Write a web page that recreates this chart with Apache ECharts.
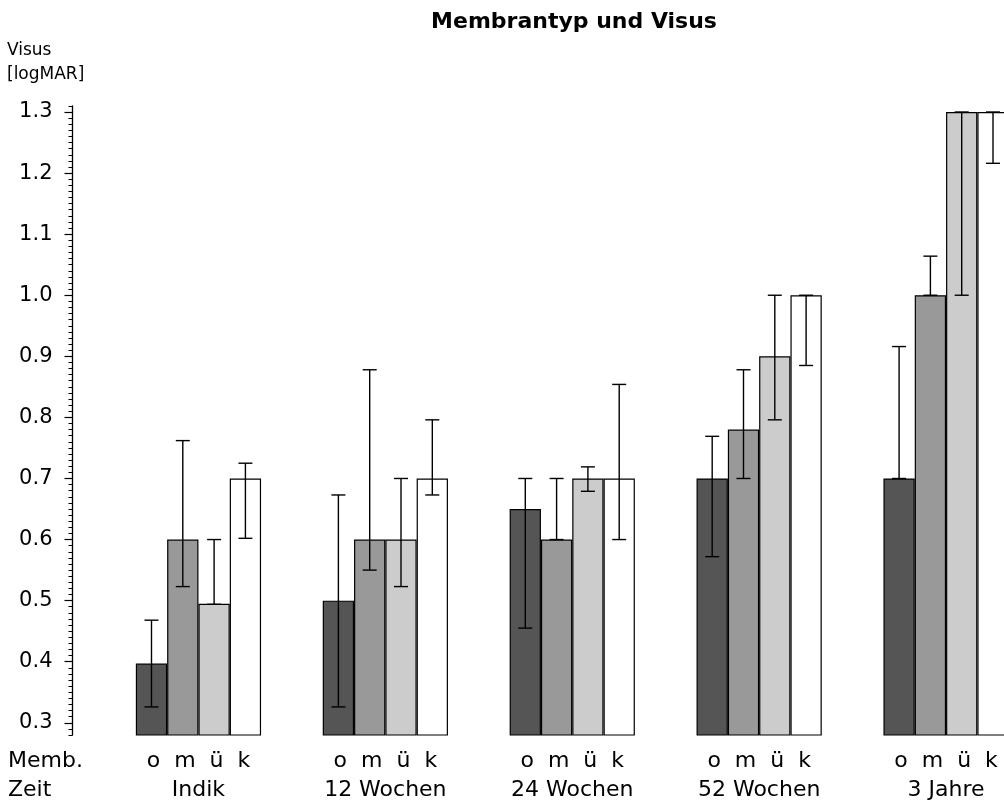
<!DOCTYPE html>
<html>
<head>
<meta charset="utf-8">
<script src="https://cdn.jsdelivr.net/npm/echarts@6/dist/echarts.min.js"></script>
<style>
  html, body { margin: 0; padding: 0; background: #fff; }
  #chart { width: 1004px; height: 805px; }
</style>
</head>
<body>
<div id="chart"></div>
<script>
// time points and membrane types
const zeitpunkte = ['Indik', '12 Wochen', '24 Wochen', '52 Wochen', '3 Jahre'];
const membranen = ['o', 'm', 'ü', 'k'];

// mean visus (logMAR) per membrane type at each time point
const visusO  = [0.397, 0.50, 0.65, 0.70, 0.70];
const visusM  = [0.60, 0.60, 0.60, 0.78, 1.00];
const visusUe = [0.495, 0.60, 0.70, 0.90, 1.30];
const visusK  = [0.70, 0.70, 0.70, 1.00, 1.30];

// error range (lower / upper) per membrane type
const fehlerOunten  = [0.326, 0.326, 0.455, 0.572, 0.70];
const fehlerOoben   = [0.468, 0.673, 0.70, 0.769, 0.916];
const fehlerMunten  = [0.523, 0.550, 0.60, 0.70, 1.00];
const fehlerMoben   = [0.762, 0.878, 0.70, 0.878, 1.064];
const fehlerUeunten = [0.494, 0.523, 0.679, 0.796, 1.00];
const fehlerUeoben  = [0.60, 0.70, 0.719, 1.00, 1.30];
const fehlerKunten  = [0.602, 0.673, 0.60, 0.885, 1.216];
const fehlerKoben   = [0.725, 0.796, 0.854, 1.00, 1.30];

// value axis ticks
const yMajorMin = 0.3, yMajorMax = 1.3, yMajorStep = 0.1;
const yMinorMin = 0.28, yMinorMax = 1.31, yMinorStep = 0.01;

const FONT = 'DejaVu Sans';
const BAR_FRACTION = 0.1675; // bar width as share of a category band
const colors = ['#555555', '#999999', '#cccccc', '#ffffff'];
const values = [visusO, visusM, visusUe, visusK];
const lows = [fehlerOunten, fehlerMunten, fehlerUeunten, fehlerKunten];
const highs = [fehlerOoben, fehlerMoben, fehlerUeoben, fehlerKoben];

const barSeries = values.map((v, i) => ({
  name: membranen[i],
  type: 'bar',
  xAxisIndex: 0,
  yAxisIndex: 0,
  barWidth: (BAR_FRACTION * 100) + '%',
  barGap: '0%',
  data: v,
  itemStyle: { color: colors[i], borderColor: '#000', borderWidth: 1.2 },
  emphasis: { disabled: true },
  z: 2
}));

const errorSeries = lows.map((lo, idx) => ({
  type: 'custom',
  xAxisIndex: 0,
  yAxisIndex: 0,
  z: 5,
  data: zeitpunkte.map((c, i) => [i, lo[i], highs[idx][i]]),
  encode: { x: 0, y: [1, 2] },
  renderItem(params, api) {
    const cat = api.value(0);
    const band = api.size([1, 0])[0];
    const bw = band * BAR_FRACTION;
    const off = (idx - 1.5) * bw;
    const pLo = api.coord([cat, api.value(1)]);
    const pHi = api.coord([cat, api.value(2)]);
    const x = pLo[0] + off;
    const cap = 7;
    const st = { stroke: '#000', lineWidth: 1.4 };
    return {
      type: 'group',
      children: [
        { type: 'line', shape: { x1: x, y1: pLo[1], x2: x, y2: pHi[1] }, style: st },
        { type: 'line', shape: { x1: x - cap, y1: pLo[1], x2: x + cap, y2: pLo[1] }, style: st },
        { type: 'line', shape: { x1: x - cap, y1: pHi[1], x2: x + cap, y2: pHi[1] }, style: st }
      ]
    };
  }
}));

const chart = echarts.init(document.getElementById('chart'), null, { renderer: 'canvas' });
chart.setOption({
  backgroundColor: '#fff',
  animation: false,
  title: {
    text: 'Membrantyp und Visus',
    left: 574,
    top: 11,
    padding: 0,
    textAlign: 'center',
    textStyle: { fontFamily: FONT, fontSize: 22, fontWeight: 'bold', color: '#000' }
  },
  grid: [
    { left: 105, top: 105.9, width: 934.5, bottom: 70, outerBoundsMode: 'none', containLabel: false },
    { left: 72.5, top: 112, width: 10, bottom: 82.2, outerBoundsMode: 'none', containLabel: false }
  ],
  xAxis: [
    {
      type: 'category',
      gridIndex: 0,
      data: zeitpunkte,
      axisLine: { show: false },
      axisTick: { show: false },
      axisLabel: {
        interval: 0,
        margin: 12,
        fontFamily: FONT,
        fontSize: 22,
        lineHeight: 29,
        color: '#000',
        formatter: (name) => membranen.join('  ') + '\n' + name
      }
    },
    { type: 'category', gridIndex: 1, show: false, data: [''] }
  ],
  yAxis: [
    {
      type: 'value',
      gridIndex: 0,
      min: yMinorMin,
      max: yMinorMax,
      interval: yMinorStep,
      offset: 32.5,
      axisLine: { show: true, lineStyle: { color: '#000', width: 1.3 } },
      axisTick: { show: true, length: 4, lineStyle: { color: '#000', width: 1 } },
      axisLabel: { show: false },
      splitLine: { show: false }
    },
    {
      type: 'value',
      gridIndex: 1,
      min: yMajorMin,
      max: yMajorMax,
      interval: yMajorStep,
      axisLine: { show: false },
      axisTick: { show: true, length: 8, lineStyle: { color: '#000', width: 1.2 } },
      axisLabel: {
        margin: 20,
        fontFamily: FONT,
        fontSize: 21,
        color: '#000',
        formatter: (v) => v.toFixed(1)
      },
      splitLine: { show: false }
    }
  ],
  graphic: [
    {
      type: 'text',
      left: 7,
      top: 39,
      style: { text: 'Visus\n[logMAR]', font: '17px "DejaVu Sans"', lineHeight: 24, fill: '#000' }
    },
    {
      type: 'text',
      left: 8,
      top: 747,
      style: { text: 'Memb.\nZeit', font: '22px "DejaVu Sans"', lineHeight: 29, fill: '#000' }
    }
  ],
  series: [...barSeries, ...errorSeries]
});
</script>
</body>
</html>
